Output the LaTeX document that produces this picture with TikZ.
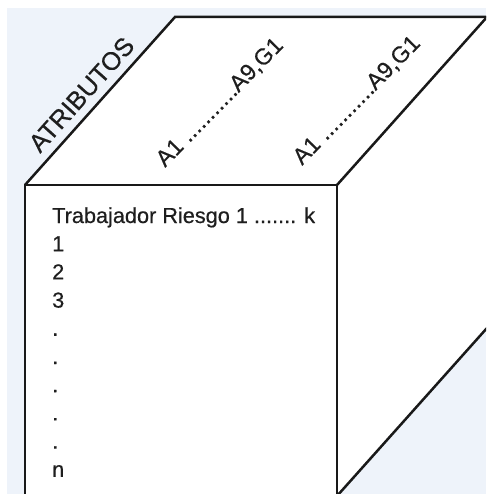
\documentclass[tikz,border=0pt]{standalone}
\usepackage{fontspec}
\setmainfont{Liberation Sans}
\newfontfamily\labelfont[FakeBold=0.5]{Liberation Sans}
\definecolor{bgblue}{RGB}{238,243,250}
\definecolor{edgecol}{RGB}{25,25,25}
\definecolor{textcol}{RGB}{30,30,30}
\begin{document}
\begin{tikzpicture}[x=1pt,y=-1pt,
  edgeline/.style={draw=edgecol,line width=2.5pt,line join=miter},
  lbl/.style={font=\labelfont\fontsize{21.7}{26}\selectfont, inner sep=0pt, text=textcol},
  biglbl/.style={font=\labelfont\fontsize{25.5}{30}\selectfont, inner sep=0pt, text=textcol},
  toplbl/.style={font=\labelfont\fontsize{23}{27}\selectfont, inner sep=0pt, text=textcol}]
\useasboundingbox (0,0) rectangle (486,494);
\fill[white] (0,0) rectangle (486,494);
\fill[bgblue] (7,8) rectangle (486,494);
\begin{scope}
  \clip (0,0) rectangle (486,494);
  % cube corners: front face and back offset
  \coordinate (F1) at (25,185);
  \coordinate (F2) at (337,185);
  \coordinate (F3) at (337,496);
  \coordinate (F4) at (25,496);
  \coordinate (B1) at (175,17);
  \coordinate (B2) at (487,17);
  \coordinate (B3) at (487,328);
  \fill[white] (F1) -- (B1) -- (B2) -- (B3) -- (F3) -- (F4) -- cycle;
  \draw[gray!50, line width=1pt] (B2) -- (B3);
  \draw[edgeline] (F4) -- (F1) -- (F2) -- (F3);
  \draw[edgeline] (F1) -- (B1) -- (B2);
  \draw[edgeline] (F2) -- (B2);
  \draw[edgeline] (F3) -- (B3);
\end{scope}
% labels on the top face
\node[biglbl, rotate=48.2, anchor=base west] (attr) at (40,154) {ATRIBUTOS};
\node[toplbl, rotate=45.5, anchor=base west] (colsA) at (165,168) {A1 ...........A9,G1};
\node[toplbl, rotate=45.5, anchor=base west] (colsB) at (302,166) {A1 ...........A9,G1};
% rows on the front face
\node[lbl, anchor=base west] (head) at (52,223) {Trabajador Riesgo 1 ....... k};
\foreach \t [count=\i] in {1,2,3,.,.,.,.,.,n}
  \node[lbl, anchor=base west] (row\i) at (52,{223+28.2*\i}) {\t};
\end{tikzpicture}
\end{document}
